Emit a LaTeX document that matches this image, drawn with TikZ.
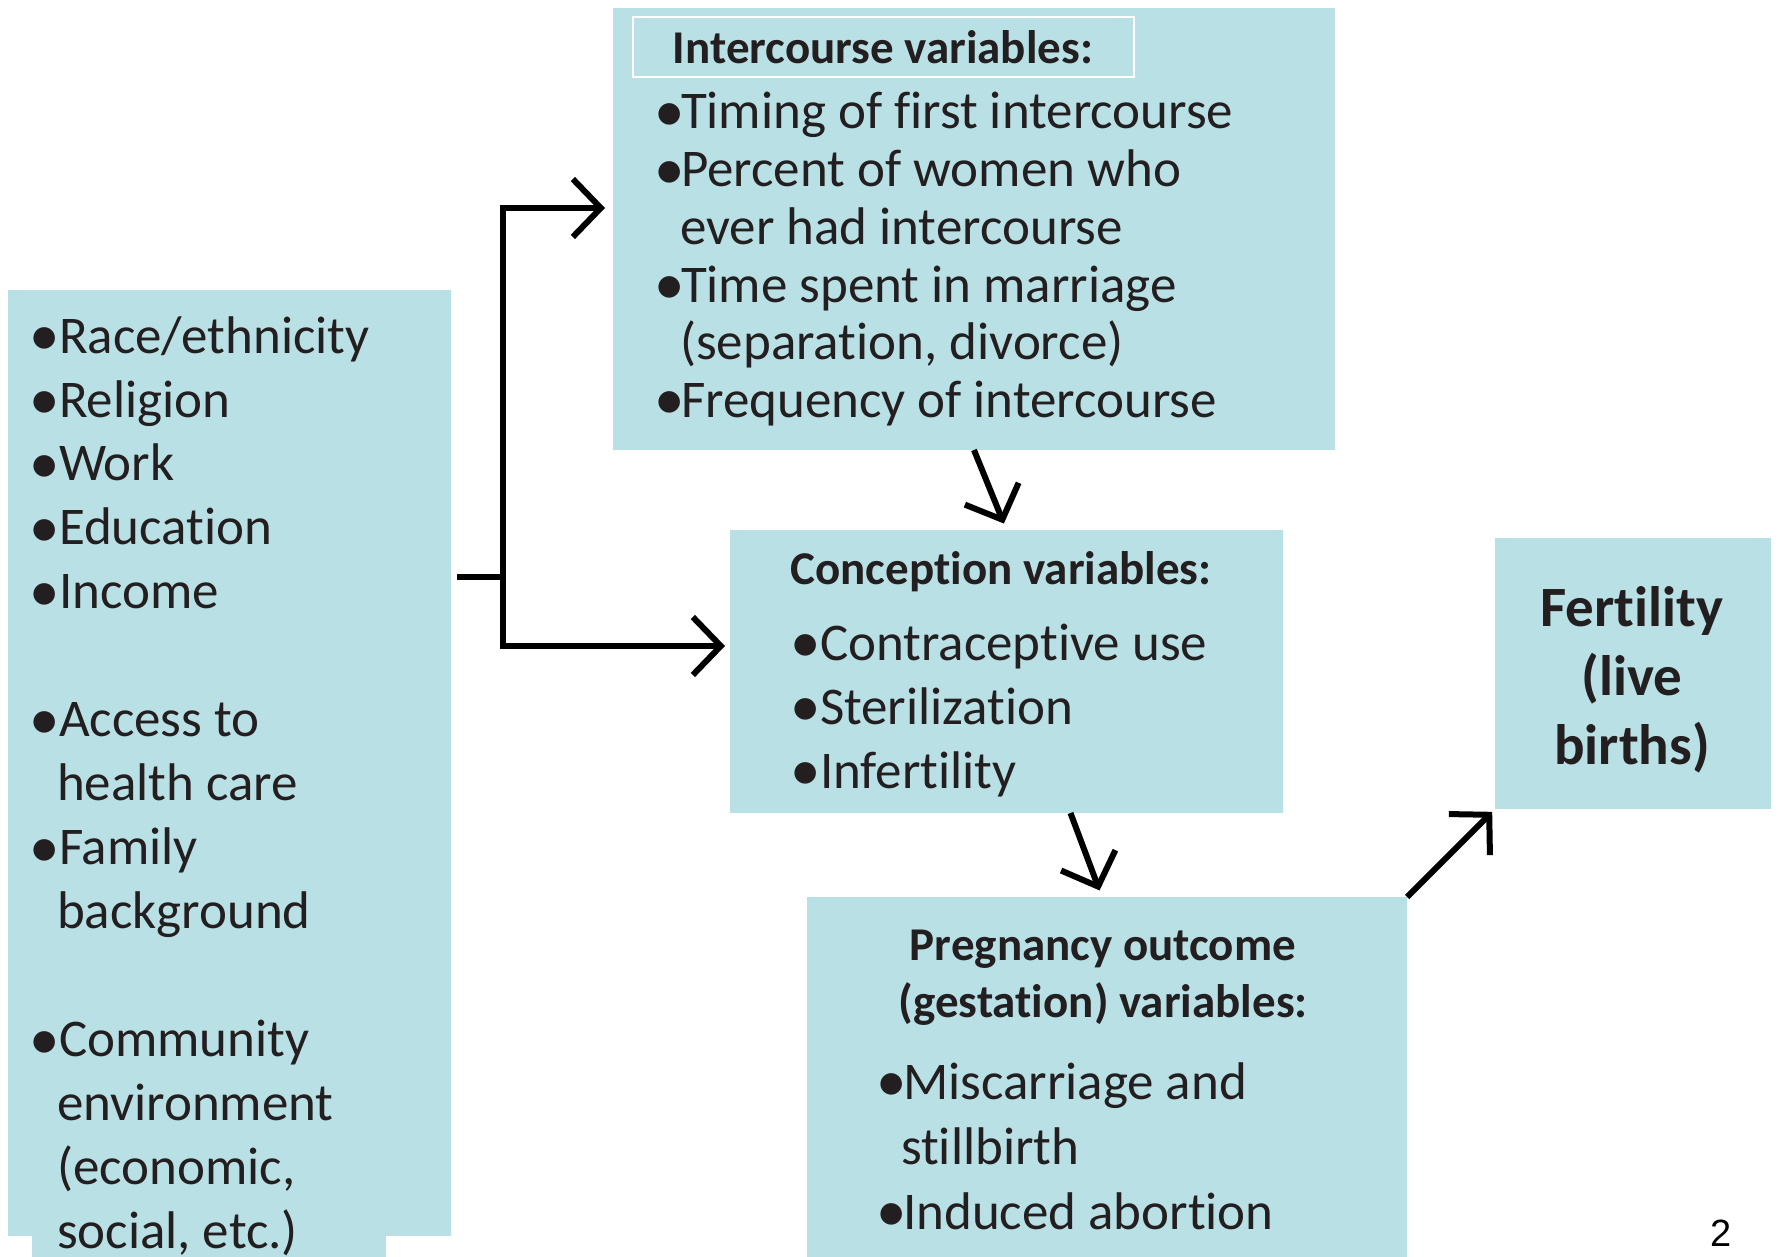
\documentclass[tikz,border=0pt]{standalone}
\usepackage{fontspec}
\setmainfont{Carlito}[Ligatures=NoCommon]
\newfontfamily\pgnfont{Liberation Sans}
\usetikzlibrary{arrows.meta,calc}
\definecolor{boxfill}{RGB}{185,224,228}
\definecolor{ink}{RGB}{35,31,32}
\newcommand\bu[1]{\makebox[#1][l]{\hspace*{-7pt}\raisebox{-2.5pt}{\scalebox{1.15}{•}}}}
\begin{document}
\begin{tikzpicture}[x=1pt,y=-1pt,
  box/.style={fill=boxfill, draw=none, inner sep=0pt, outer sep=0pt, anchor=north west},
  txt/.style={inner sep=0pt, outer sep=0pt, text=ink, anchor=base west},
  ctxt/.style={inner sep=0pt, outer sep=0pt, text=ink, anchor=base},
  conn/.style={draw=black, line width=6pt},
  arr/.style={conn, -{Straight Barb[length=28pt,width=58pt]}}]
\useasboundingbox (0,0) rectangle (1781,1257);
% boxes
\node[box, minimum width=443pt, minimum height=946pt] (L) at (8,290) {};
\node[box, minimum width=354pt, minimum height=27pt] (Lx) at (32,1230) {};
\node[box, minimum width=722pt, minimum height=442pt] (I) at (613,8) {};
\node[box, draw=white, line width=2pt, minimum width=501pt, minimum height=60pt] (It) at (633,17) {};
\node[box, minimum width=553pt, minimum height=283pt] (C) at (730,530) {};
\node[box, minimum width=600pt, minimum height=360pt] (P) at (807,897) {};
\node[box, minimum width=276pt, minimum height=271pt] (F) at (1495,538) {};
% left text
\node[txt] (Ltext) at (36,353) {\fontsize{53}{64}\selectfont
\begin{tabular}[t]{@{}l@{}}
\bu{23pt}Race/ethnicity\\
\bu{23pt}Religion\\
\bu{23pt}Work\\
\bu{23pt}Education\\
\bu{23pt}Income\\
\\
\bu{23pt}Access to\\
\hspace*{21pt}health care\\
\bu{23pt}Family\\
\hspace*{21pt}background\\
\\
\bu{23pt}Community\\
\hspace*{21pt}environment\\
\hspace*{21pt}(economic,\\
\hspace*{21pt}social, etc.)
\end{tabular}};
% intercourse
\node[ctxt] (Ititle) at (883,64) {\bfseries\fontsize{47}{57}\selectfont Intercourse variables:};
\node[txt] (Itext) at (661,129) {\fontsize{53}{57.7}\selectfont
\begin{tabular}[t]{@{}l@{}}
\bu{20pt}Timing of first intercourse\\
\bu{20pt}Percent of women who\\
\hspace*{19pt}ever had intercourse\\
\bu{20pt}Time spent in marriage\\
\hspace*{19pt}(separation, divorce)\\
\bu{20pt}Frequency of intercourse
\end{tabular}};
% conception
\node[ctxt] (Ctitle) at (1001,584) {\bfseries\fontsize{47}{57}\selectfont Conception variables:};
\node[txt] (Ctext) at (797,660) {\fontsize{53}{64}\selectfont
\begin{tabular}[t]{@{}l@{}}
\bu{23pt}Contraceptive use\\
\bu{23pt}Sterilization\\
\bu{23pt}Infertility
\end{tabular}};
% pregnancy
\node[ctxt] (Ptitle) at (1103,960) {\bfseries\fontsize{47}{57}\selectfont
\begin{tabular}[t]{@{}c@{}}
Pregnancy outcome\\
(gestation) variables:
\end{tabular}};
\node[txt] (Ptext) at (883,1099) {\fontsize{53}{65}\selectfont
\begin{tabular}[t]{@{}l@{}}
\bu{20pt}Miscarriage and\\
\hspace*{18pt}stillbirth\\
\bu{20pt}Induced abortion
\end{tabular}};
% fertility
\node[ctxt] (Ftext) at (1632,626) {\bfseries\fontsize{57}{69}\selectfont
\begin{tabular}[t]{@{}c@{}}
Fertility\\
(live\\
births)
\end{tabular}};
% page number
\node[inner sep=0pt, anchor=base] (pg) at (1721,1246) {\pgnfont\fontsize{38}{44}\selectfont 2};
% connectors
\coordinate (split) at (503,577);
\coordinate (yA) at (0,208);
\coordinate (yB) at (0,646);
\draw[conn] ([xshift=6pt]L.east |- split) -- (split);
\draw[arr] (split) |- ([xshift=-8pt]I.west |- yA);
\draw[arr] (split) |- ([xshift=-5pt]C.west |- yB);
\draw[arr, shorten >=7pt] (I.south) -- (C.north);
\draw[arr, shorten >=7pt] ([xshift=64pt]C.south) -- ([xshift=-5pt]P.north);
\draw[arr, shorten >=4pt] (P.north east) -- (F.south west);
\end{tikzpicture}
\end{document}
